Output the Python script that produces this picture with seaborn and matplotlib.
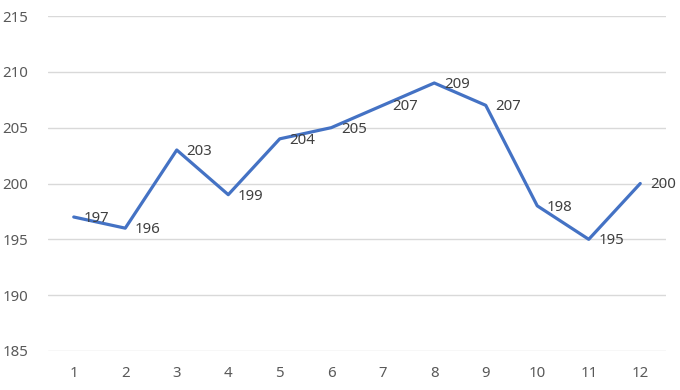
import pandas as pd
import matplotlib
matplotlib.use("Agg")
import matplotlib.pyplot as plt
import seaborn as sns

# datos
meses = [1, 2, 3, 4, 5, 6, 7, 8, 9, 10, 11, 12]
valores = [197, 196, 203, 199, 204, 205, 207, 209, 207, 198, 195, 200]
y_ticks = [185, 190, 195, 200, 205, 210, 215]

df = pd.DataFrame({"mes": meses, "valor": valores})

sns.set_style("white")
plt.rcParams["font.family"] = ["Noto Sans", "DejaVu Sans"]

gris = "#595959"
fig = plt.figure(figsize=(6.8, 3.9), dpi=100)
ax = fig.add_axes([48 / 680, 39 / 390, 618 / 680, 335 / 390])

sns.lineplot(data=df, x="mes", y="valor", ax=ax, color="#4472C4", linewidth=2.3)

# etiquetas de datos a la derecha de cada punto
for m, v in zip(meses, valores):
    ax.annotate(str(v), (m, v), xytext=(7, -1), textcoords="offset points",
                ha="left", va="center", fontsize=10.8, color="#404040")

ax.set_xlim(0.5, 12.5)
ax.set_ylim(185, 215)
ax.set_xticks(meses)
ax.set_yticks(y_ticks)
ax.tick_params(axis="both", length=0, labelsize=10.8, labelcolor=gris)
ax.tick_params(axis="x", pad=11)
ax.tick_params(axis="y", pad=14)
ax.yaxis.grid(True, color="#d9d9d9", linewidth=1)
ax.set_axisbelow(True)
for s in ax.spines.values():
    s.set_visible(False)
ax.set_xlabel("")
ax.set_ylabel("")

fig.savefig("out.png", dpi=100)
